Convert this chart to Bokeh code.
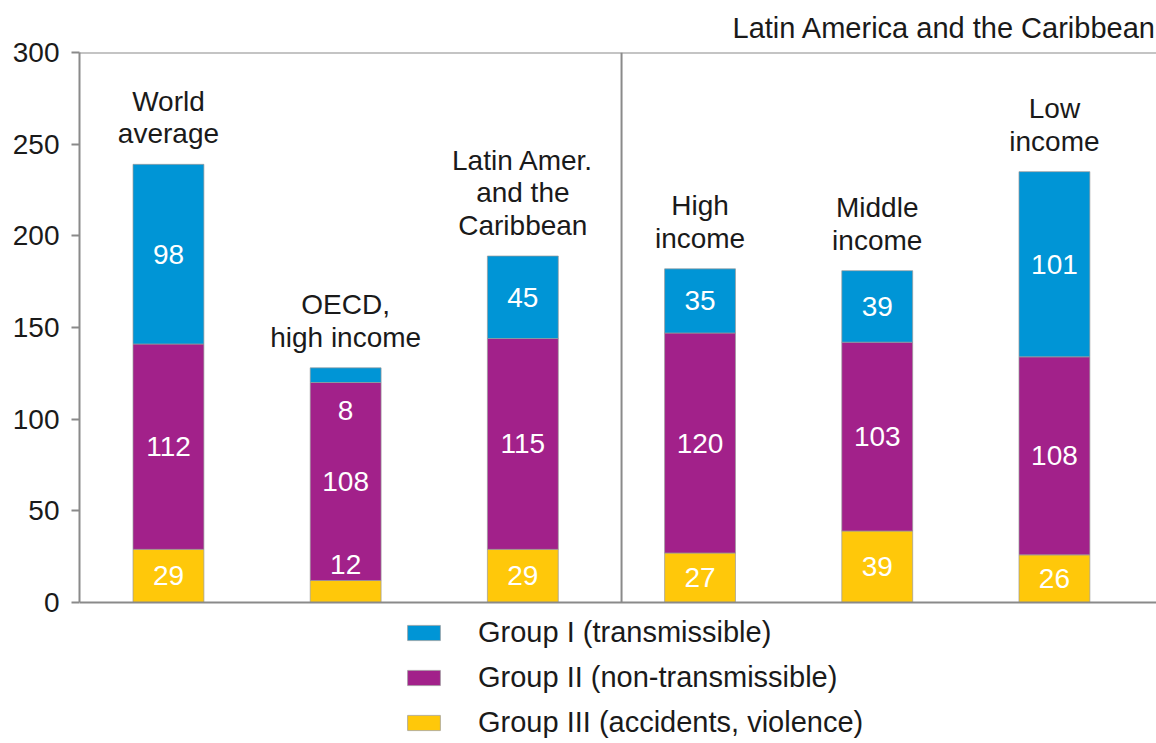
from bokeh.plotting import figure
from bokeh.models import (ColumnDataSource, Span, Legend, LegendItem, FixedTicker,
                          Title, Range1d)
from bokeh.core.properties import value
from bokeh.embed import file_html
from bokeh.resources import INLINE

# ---------------- data ----------------
categories = ["World\naverage", "OECD,\nhigh income", "Latin Amer.\nand the\nCaribbean",
              "High\nincome", "Middle\nincome", "Low\nincome"]
group1 = [98, 8, 45, 35, 39, 101]      # transmissible
group2 = [112, 108, 115, 120, 103, 108]  # non-transmissible
group3 = [29, 12, 29, 27, 39, 26]      # accidents, violence
series_names = ["Group I (transmissible)", "Group II (non-transmissible)",
                "Group III (accidents, violence)"]
region_title = "Latin America and the Caribbean"
y_ticks = [0, 50, 100, 150, 200, 250, 300]

# ---------------- styling ----------------
FONT = "Liberation Sans"
FS = "28px"
TXT = "#1a1a1a"
AXIS = "#8a8a8a"
C1, C2, C3 = "#0095D6", "#A2218A", "#FFC80A"

xpos = list(range(len(categories)))
totals = [a + b + c for a, b, c in zip(group1, group2, group3)]
y_top = y_ticks[-1]

src = ColumnDataSource(dict(x=xpos, g1=group1, g2=group2, g3=group3, total=totals,
                            cat=categories))

# frame extends below zero to host the legend area
p = figure(frame_width=1077, frame_height=691, output_backend="svg", toolbar_location=None,
           x_range=Range1d(-0.502, 5.576), y_range=Range1d(-76.9, y_top),
           min_border_left=79, min_border_right=0, min_border_top=52, min_border_bottom=0)
p.outline_line_color = None
p.xgrid.visible = False
p.ygrid.visible = False
p.background_fill_color = "white"
p.border_fill_color = "white"
p.xaxis.visible = False

rs = p.vbar_stack(["g3", "g2", "g1"], x="x", width=0.40, source=src,
                  color=[C3, C2, C1], line_color="#9a9a9a", line_alpha=0.7, line_width=1)

# segment value labels
lx, ly, lt = [], [], []
small = 15
pad = 9
for i in range(len(xpos)):
    b3 = group3[i]
    b2 = group3[i] + group2[i]
    lx.append(xpos[i]); lt.append(str(group3[i]))
    ly.append(b3 / 2 if group3[i] >= small else b3 + pad)
    lx.append(xpos[i]); lt.append(str(group2[i]))
    ly.append(b3 + group2[i] / 2)
    lx.append(xpos[i]); lt.append(str(group1[i]))
    ly.append(b2 + group1[i] / 2 if group1[i] >= small else b2 - pad - 6)

p.text(x=lx, y=ly, text=lt, text_color="white", text_font=value(FONT),
       text_font_size=FS, text_align="center", text_baseline="middle")

# category labels above bars
p.text(x="x", y="total", text="cat", source=src, text_color=TXT, text_font=value(FONT),
       text_font_size=FS, text_align="center", text_baseline="bottom", y_offset=-15,
       text_line_height=1.05)

# frame lines: top, baseline, region divider
p.add_layout(Span(location=y_top, dimension="width", line_color=AXIS, line_width=2))
p.add_layout(Span(location=0, dimension="width", line_color=AXIS, line_width=2))
p.segment(x0=[2.557], y0=[0], x1=[2.557], y1=[y_top], line_color=AXIS, line_width=2)

# y axis
p.yaxis.bounds = (0, y_top)
p.yaxis.ticker = FixedTicker(ticks=y_ticks)
p.yaxis.axis_line_color = AXIS
p.yaxis.axis_line_width = 2
p.yaxis.major_tick_line_color = AXIS
p.yaxis.major_tick_line_width = 2
p.yaxis.major_tick_out = 8
p.yaxis.major_tick_in = 0
p.yaxis.minor_tick_line_color = None
p.yaxis.major_label_text_font = FONT
p.yaxis.major_label_text_font_size = FS
p.yaxis.major_label_text_color = TXT
p.yaxis.major_label_standoff = 12

# region title
t = Title(text=region_title, align="right", text_font=FONT, text_font_size="29px",
          text_font_style="normal", text_color=TXT, standoff=17)
p.add_layout(t, "above")

# legend below the bars
items = [LegendItem(label=series_names[0], renderers=[rs[2]]),
         LegendItem(label=series_names[1], renderers=[rs[1]]),
         LegendItem(label=series_names[2], renderers=[rs[0]])]
leg = Legend(items=items, location=(324, 4), glyph_width=41, glyph_height=19,
             label_height=32, label_standoff=34, spacing=12, padding=0, margin=0,
             border_line_color=None, background_fill_alpha=0,
             label_text_font=FONT, label_text_font_size="29px", label_text_color=TXT)
p.add_layout(leg, "center")

open("out.html", "w").write(file_html(p, INLINE))
